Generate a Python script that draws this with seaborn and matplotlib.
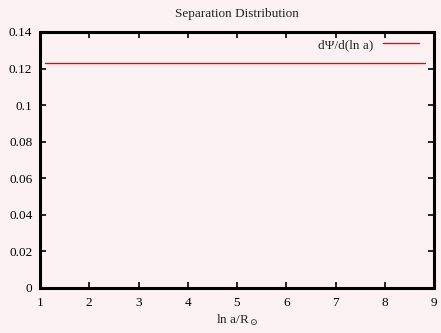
import matplotlib
matplotlib.use("Agg")
import matplotlib.pyplot as plt
import seaborn as sns
import pandas as pd
from matplotlib.ticker import FixedLocator, FuncFormatter

# flat separation distribution in ln a
ln_a = [1.1, 8.82]
dpsi = [0.1232, 0.1232]
x_ticks = [1, 2, 3, 4, 5, 6, 7, 8, 9]
y_ticks = [0, 0.02, 0.04, 0.06, 0.08, 0.1, 0.12, 0.14]

sns.set_style("ticks")
plt.rcParams["font.family"] = ["Liberation Serif", "DejaVu Serif"]
plt.rcParams["mathtext.fontset"] = "dejavuserif"

fs = 9.5
bg = "#fcf2f4"
fig = plt.figure(figsize=(4.41, 3.33), dpi=100, facecolor=bg)
ax = fig.add_axes([40 / 441, 1 - 288 / 333, 394 / 441, 256 / 333])
ax.set_facecolor(bg)

df = pd.DataFrame({"ln_a": ln_a, "dpsi": dpsi})
sns.lineplot(data=df, x="ln_a", y="dpsi", ax=ax, color="#ff0000", linewidth=1.0,
             label="d\u03a8/d(ln a)")

ax.set_xlim(1, 9)
ax.set_ylim(0, 0.14)
ax.xaxis.set_major_locator(FixedLocator(x_ticks))
ax.yaxis.set_major_locator(FixedLocator(y_ticks))
ax.yaxis.set_major_formatter(FuncFormatter(lambda v, p: f"{v:g}"))
ax.tick_params(direction="in", length=4, width=1.2, top=True, right=True,
               labelsize=fs, colors="black")
ax.tick_params(axis="x", pad=6.5)
ax.tick_params(axis="y", pad=5.5)
for s in ax.spines.values():
    s.set_linewidth(2.2)
    s.set_color("black")

ax.set_title("Separation Distribution", fontsize=fs, pad=10.5)
ax.set_xlabel(r"ln a/R$_\odot$", fontsize=fs, labelpad=3)
ax.set_ylabel("")

leg = ax.legend(loc="center right", bbox_to_anchor=(419 / 441, 1 - 45 / 333),
                bbox_transform=fig.transFigure, frameon=False, markerfirst=False,
                fontsize=fs, handlelength=2.7, borderpad=0, borderaxespad=0,
                handletextpad=0.75)

fig.savefig("out.png", dpi=100, facecolor=bg)
